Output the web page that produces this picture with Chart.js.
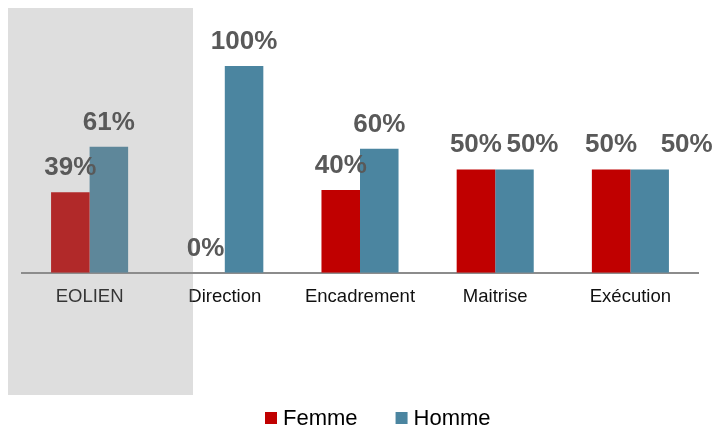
<!DOCTYPE html>
<html lang="fr">
<head>
<meta charset="utf-8">
<title>Répartition Femme / Homme</title>
<script src="https://cdn.jsdelivr.net/npm/chart.js@4.4.1/dist/chart.umd.min.js"></script>
<style>
    html, body { margin: 0; padding: 0; background: #fff; }
    #wrap { width: 717px; height: 429px; }
</style>
</head>
<body>
<div id="wrap"><canvas id="chartRepartition" width="717" height="429"></canvas></div>
<script>
// ── Données ──────────────────────────────────────────────
const categories = ['EOLIEN', 'Direction', 'Encadrement', 'Maitrise', 'Exécution'];
const femme = [39, 0, 40, 50, 50];
const homme = [61, 100, 60, 50, 50];
const seriesNames = ['Femme', 'Homme'];
const seriesColors = ['#C00000', '#4B85A0'];

const FONT = "'Liberation Sans', Arial, sans-serif";

// Bande grise sur la colonne EOLIEN (posée par-dessus les barres)
const bandePlugin = {
    id: 'bande',
    afterDatasetsDraw(chart, args, opts) {
        const { ctx } = chart;
        ctx.save();
        ctx.fillStyle = opts.color;
        ctx.fillRect(opts.x0, opts.y0, opts.x1 - opts.x0, opts.y1 - opts.y0);
        ctx.restore();
    }
};

// Pourcentages au-dessus des barres
const valeursPlugin = {
    id: 'valeurs',
    afterDraw(chart, args, opts) {
        const { ctx } = chart;
        ctx.save();
        ctx.font = `bold ${opts.size}px ${FONT}`;
        ctx.fillStyle = opts.color;
        ctx.textAlign = 'center';
        ctx.textBaseline = 'alphabetic';
        chart.data.datasets.forEach((ds, i) => {
            const shift = opts.shift[i] || [];
            chart.getDatasetMeta(i).data.forEach((bar, j) => {
                ctx.fillText(ds.data[j] + '%', bar.x + (shift[j] || 0), bar.y - opts.gap);
            });
        });
        ctx.restore();
    }
};

// Légende dessinée à la main (décalée à droite du centre)
const legendePlugin = {
    id: 'legende',
    afterDraw(chart, args, opts) {
        const { ctx } = chart;
        ctx.save();
        ctx.font = `${opts.size}px ${FONT}`;
        ctx.textBaseline = 'middle';
        ctx.textAlign = 'left';
        let x = opts.x;
        chart.data.datasets.forEach(ds => {
            ctx.fillStyle = ds.backgroundColor;
            ctx.fillRect(x, opts.y - opts.box / 2, opts.box, opts.box);
            x += opts.box + 6;
            ctx.fillStyle = '#000';
            ctx.fillText(ds.label, x, opts.y + 1);
            x += ctx.measureText(ds.label).width + opts.spacing;
        });
        ctx.restore();
    }
};

new Chart(document.getElementById('chartRepartition'), {
    type: 'bar',
    data: {
        labels: categories,
        datasets: [
            { label: seriesNames[0], data: femme, backgroundColor: seriesColors[0] },
            { label: seriesNames[1], data: homme, backgroundColor: seriesColors[1] }
        ]
    },
    options: {
        responsive: false,
        animation: false,
        categoryPercentage: 0.57,
        barPercentage: 1,
        layout: { padding: { top: 66, left: 22, right: 19, bottom: 116 } },
        scales: {
            y: { display: false, min: 0, max: 100 },
            x: {
                grid: { display: false },
                border: { display: true, color: '#8C8C8C', width: 2 },
                ticks: {
                    color: '#111',
                    padding: 5,
                    maxRotation: 0,
                    autoSkip: false,
                    font: { family: FONT, size: 18.5 }
                }
            }
        },
        plugins: {
            legend: { display: false },
            tooltip: { enabled: false },
            bande: { color: 'rgba(143,143,143,0.29)', x0: 8, y0: 8, x1: 193, y1: 395 },
            valeurs: { size: 26, color: '#595959', gap: 17, shift: [[], [0, 0, 0, 18, 37]] },
            legende: { x: 265, y: 418, box: 12, size: 22, spacing: 38 }
        }
    },
    plugins: [bandePlugin, valeursPlugin, legendePlugin]
});
</script>
</body>
</html>
